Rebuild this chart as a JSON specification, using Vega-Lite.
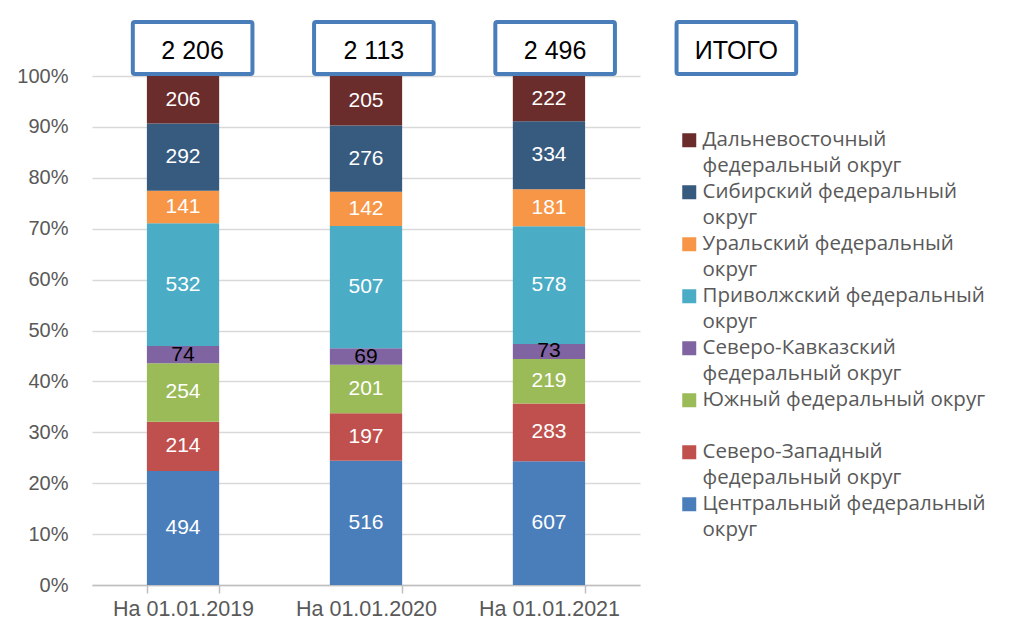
{
  "$schema": "https://vega.github.io/schema/vega-lite/v6.json",
  "width": 548,
  "height": 509,
  "autosize": {"type": "none"},
  "padding": {"left": 92, "top": 76, "right": 370, "bottom": 45},
  "background": "white",
  "datasets": {
    "regions": [
      {"period": "На 01.01.2019", "region": "Центральный федеральный округ", "idx": 1, "value": 494},
      {"period": "На 01.01.2019", "region": "Северо-Западный федеральный округ", "idx": 2, "value": 214},
      {"period": "На 01.01.2019", "region": "Южный федеральный округ", "idx": 3, "value": 254},
      {"period": "На 01.01.2019", "region": "Северо-Кавказский федеральный округ", "idx": 4, "value": 74},
      {"period": "На 01.01.2019", "region": "Приволжский федеральный округ", "idx": 5, "value": 532},
      {"period": "На 01.01.2019", "region": "Уральский федеральный округ", "idx": 6, "value": 141},
      {"period": "На 01.01.2019", "region": "Сибирский федеральный округ", "idx": 7, "value": 292},
      {"period": "На 01.01.2019", "region": "Дальневосточный федеральный округ", "idx": 8, "value": 206},
      {"period": "На 01.01.2020", "region": "Центральный федеральный округ", "idx": 1, "value": 516},
      {"period": "На 01.01.2020", "region": "Северо-Западный федеральный округ", "idx": 2, "value": 197},
      {"period": "На 01.01.2020", "region": "Южный федеральный округ", "idx": 3, "value": 201},
      {"period": "На 01.01.2020", "region": "Северо-Кавказский федеральный округ", "idx": 4, "value": 69},
      {"period": "На 01.01.2020", "region": "Приволжский федеральный округ", "idx": 5, "value": 507},
      {"period": "На 01.01.2020", "region": "Уральский федеральный округ", "idx": 6, "value": 142},
      {"period": "На 01.01.2020", "region": "Сибирский федеральный округ", "idx": 7, "value": 276},
      {"period": "На 01.01.2020", "region": "Дальневосточный федеральный округ", "idx": 8, "value": 205},
      {"period": "На 01.01.2021", "region": "Центральный федеральный округ", "idx": 1, "value": 607},
      {"period": "На 01.01.2021", "region": "Северо-Западный федеральный округ", "idx": 2, "value": 283},
      {"period": "На 01.01.2021", "region": "Южный федеральный округ", "idx": 3, "value": 219},
      {"period": "На 01.01.2021", "region": "Северо-Кавказский федеральный округ", "idx": 4, "value": 73},
      {"period": "На 01.01.2021", "region": "Приволжский федеральный округ", "idx": 5, "value": 578},
      {"period": "На 01.01.2021", "region": "Уральский федеральный округ", "idx": 6, "value": 181},
      {"period": "На 01.01.2021", "region": "Сибирский федеральный округ", "idx": 7, "value": 334},
      {"period": "На 01.01.2021", "region": "Дальневосточный федеральный округ", "idx": 8, "value": 222}
    ],
    "totals": [
      {"col": "На 01.01.2019", "label": "2 206"},
      {"col": "На 01.01.2020", "label": "2 113"},
      {"col": "На 01.01.2021", "label": "2 496"},
      {"col": "ИТОГО", "label": "ИТОГО"}
    ]
  },
  "layer": [
    {
      "data": {"name": "regions"},
      "layer": [
        {
          "mark": {"type": "bar"},
          "encoding": {
            "x": {
              "field": "period", "type": "nominal", "sort": null,
              "scale": {"paddingInner": 0.605, "paddingOuter": 0.3},
              "axis": {
                "title": null, "labelAngle": 0, "labelFont": "Liberation Sans", "labelFontSize": 21.5,
                "labelColor": "#595959", "domainColor": "#bfbfbf", "domainWidth": 1.5,
                "ticks": true, "tickColor": "#bfbfbf", "tickWidth": 1.5, "tickSize": 8,
                "tickBand": "extent", "labelPadding": 5, "grid": false
              }
            },
            "y": {
              "field": "value", "type": "quantitative", "stack": "normalize",
              "scale": {"domain": [0, 1]},
              "axis": {
                "title": null, "values": [0, 0.1, 0.2, 0.3, 0.4, 0.5, 0.6, 0.7, 0.8, 0.9, 1],
                "format": ".0%", "labelFont": "Liberation Sans", "labelFontSize": 20,
                "labelColor": "#595959", "domain": false, "ticks": false, "labelPadding": 24,
                "grid": true, "gridColor": "#d9d9d9", "gridWidth": 1.5
              }
            },
            "color": {
              "field": "region", "type": "nominal",
              "scale": {
                "domain": [
                  "Дальневосточный федеральный округ",
                  "Сибирский федеральный округ",
                  "Уральский федеральный округ",
                  "Приволжский федеральный округ",
                  "Северо-Кавказский федеральный округ",
                  "Южный федеральный округ",
                  "Северо-Западный федеральный округ",
                  "Центральный федеральный округ"
                ],
                "range": ["#6b2c2c", "#375a7f", "#f79646", "#4bacc6", "#8064a2", "#9bbb59", "#c0504d", "#4a7ebb"]
              },
              "legend": {
                "title": null, "orient": "none", "legendX": 587, "legendY": 54,
                "symbolType": "square", "symbolSize": 196, "symbolStrokeWidth": 0,
                "labelFont": "Open Sans", "labelFontSize": 20.5, "labelColor": "#595959",
                "labelOffset": 3, "rowPadding": 5, "padding": 0, "labelLimit": 400,
                "labelExpr": "length(split(datum.label, ' ')[0]) > 12 ? [split(datum.label, ' ')[0], 'федеральный округ'] : (length(datum.label) > 24 ? [replace(datum.label, ' округ', ''), 'округ'] : [datum.label, ' '])",
                "encode": {"labels": {"update": {"lineHeight": {"value": 25.5}}}}
              }
            },
            "order": {"field": "idx", "sort": "ascending"}
          }
        },
        {
          "mark": {"type": "text", "font": "Liberation Sans", "fontSize": 21, "baseline": "middle"},
          "encoding": {
            "x": {"field": "period", "type": "nominal", "sort": null},
            "y": {"field": "value", "type": "quantitative", "stack": "normalize", "bandPosition": 0.5},
            "detail": {"field": "region"},
            "order": {"field": "idx", "sort": "ascending"},
            "text": {"field": "value", "type": "quantitative"},
            "color": {
              "condition": {"test": "datum.region === 'Северо-Кавказский федеральный округ'", "value": "#000000"},
              "value": "#ffffff"
            }
          }
        }
      ]
    },
    {
      "data": {"name": "totals"},
      "layer": [
        {
          "mark": {"type": "rect", "fill": "white", "stroke": "#4a7ebb", "strokeWidth": 4, "cornerRadius": 2},
          "encoding": {
            "x": {
              "field": "col", "type": "nominal", "sort": null,
              "scale": {"range": [10, 735], "paddingInner": 0.34, "paddingOuter": 0.17},
              "axis": null
            },
            "y": {"datum": 1.004, "type": "quantitative"},
            "y2": {"datum": 1.106}
          }
        },
        {
          "mark": {"type": "text", "font": "Liberation Sans", "fontSize": 25, "color": "#000000", "baseline": "middle"},
          "encoding": {
            "x": {"field": "col", "type": "nominal", "sort": null, "axis": null},
            "y": {"datum": 1.05, "type": "quantitative"},
            "text": {"field": "label"}
          }
        }
      ]
    }
  ],
  "resolve": {"scale": {"x": "independent"}},
  "config": {"view": {"stroke": null}}
}
